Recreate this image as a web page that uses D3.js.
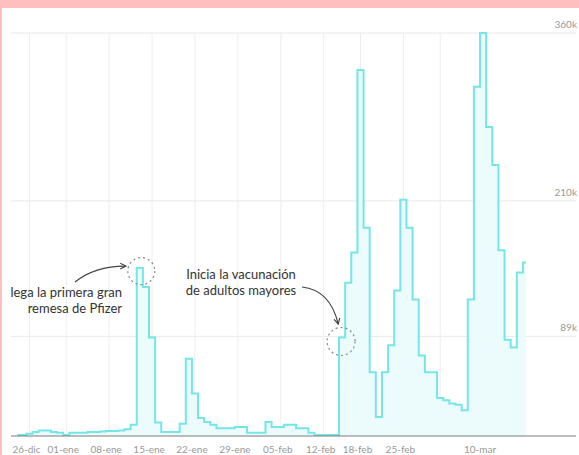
<!DOCTYPE html>
<html>
<head>
<meta charset="utf-8">
<script src="https://cdn.jsdelivr.net/npm/d3@7"></script>
<style>
  html, body { margin: 0; padding: 0; }
  body { width: 579px; height: 455px; background: #ffbfbf; position: relative; overflow: hidden; }
  #panel { position: absolute; left: 2px; top: 8px; width: 577px; height: 447px; background: #fff; }
  svg { position: absolute; left: 0; top: 0; }
  text { font-family: Lato, "Open Sans", sans-serif; }
</style>
</head>
<body>
<div id="panel"></div>
<svg id="chart" width="579" height="455"></svg>
<script>
// ---- data ----
const startDate = "2020-12-24";
const endDate = "2021-03-17";
const values = [
  1000, 1000, 2000, 3500, 5000, 5000, 3500, 3000, 1000, 3000,
  3000, 3000, 3500, 3500, 4000, 4500, 4500, 5000, 6000, 10000,
  150000, 133000, 88000, 12000, 3500, 3500, 3500, 11000, 69000, 38000,
  16000, 12500, 10000, 7000, 7000, 7000, 8000, 8000, 3000, 3000,
  3000, 12500, 8000, 8000, 10000, 10000, 7000, 7000, 3000, 1000,
  1000, 1000, 1000, 88000, 137000, 164000, 327000, 186000, 57000, 17000,
  57000, 81000, 130000, 211000, 186000, 122000, 72000, 57000, 57000, 34000,
  32000, 29000, 28000, 23000, 122000, 312000, 360000, 276000, 242000, 166000,
  86000, 79000, 146000, 155000
];
const yTicks = [89000, 210000, 360000];
const yTickLabels = ["89k", "210k", "360k"];
const xTickDates = ["2020-12-26","2021-01-01","2021-01-08","2021-01-15","2021-01-22","2021-01-29","2021-02-05","2021-02-12","2021-02-18","2021-02-25","2021-03-03","2021-03-10"];
const xTickLabels = ["26-dic","01-ene","08-ene","15-ene","22-ene","29-ene","05-feb","12-feb","18-feb","25-feb","","10-mar"];
const annotations = [
  { date: "2021-01-13", value: 150000, lines: ["Llega la primera gran", "remesa de Pfizer"] },
  { date: "2021-02-15", value: 88000, lines: ["Inicia la vacunación", "de adultos mayores"] }
];

// ---- setup ----
const parse = d3.timeParse("%Y-%m-%d");
const days = d3.timeDay.range(parse(startDate), d3.timeDay.offset(parse(endDate), 1));
const data = days.map((d, i) => ({ date: d, value: values[i] }));

const svg = d3.select("#chart");
const x = d3.scaleTime().domain([parse(startDate), parse(endDate)]).range([17.2, 526]);
const y = d3.scaleLinear().domain([0, 360000]).range([436, 33]);
const plotLeft = 11, plotRight = 576;

const defs = svg.append("defs");
defs.append("clipPath").attr("id", "clipL").append("rect")
  .attr("x", 10.7).attr("y", 0).attr("width", 570).attr("height", 455);
defs.append("marker").attr("id", "arrow").attr("viewBox", "0 0 10 10")
  .attr("refX", 8).attr("refY", 5).attr("markerWidth", 6).attr("markerHeight", 6)
  .attr("orient", "auto-start-reverse")
  .append("path").attr("d", "M1,1 L9,5 L1,9").attr("fill", "none").attr("stroke", "#444").attr("stroke-width", 1.6);

// horizontal gridlines
svg.append("g").selectAll("line").data(yTicks).join("line")
  .attr("x1", plotLeft).attr("x2", plotRight)
  .attr("y1", d => y(d)).attr("y2", d => y(d))
  .attr("stroke", "#e8e8e8").attr("stroke-width", 1);

// vertical gridlines
svg.append("g").selectAll("line").data(xTickDates).join("line")
  .attr("x1", d => x(parse(d))).attr("x2", d => x(parse(d)))
  .attr("y1", y(360000)).attr("y2", y(0))
  .attr("stroke", "#eeeeee").attr("stroke-width", 1);

// area + line
const area = d3.area().curve(d3.curveStep).x(d => x(d.date)).y0(y(0)).y1(d => y(d.value));
const line = d3.line().curve(d3.curveStep).x(d => x(d.date)).y(d => y(d.value));
svg.append("path").datum(data).attr("d", area).attr("fill", "#eafcfc").attr("opacity", 0.9);
svg.append("path").datum(data).attr("d", line).attr("fill", "none")
  .attr("stroke", "#74e6e8").attr("stroke-width", 2).attr("stroke-linejoin", "miter");

// baseline
svg.append("line").attr("x1", plotLeft).attr("x2", plotRight)
  .attr("y1", y(0)).attr("y2", y(0)).attr("stroke", "#7a7a7a").attr("stroke-width", 1);

// y tick labels
svg.append("g").selectAll("text").data(yTicks).join("text")
  .attr("x", 577).attr("y", d => y(d) - 5)
  .attr("text-anchor", "end").attr("font-size", 10).attr("fill", "#999")
  .text((d, i) => yTickLabels[i]);

// x tick labels
svg.append("g").selectAll("text").data(xTickDates).join("text")
  .attr("x", d => x(parse(d)) - 3).attr("y", 453)
  .attr("text-anchor", "middle").attr("font-size", 10).attr("fill", "#999")
  .text((d, i) => xTickLabels[i]);

// annotations
const a1 = annotations[0], a2 = annotations[1];
const c1x = x(parse(a1.date)) + 1.5, c1y = y(a1.value) + 3;
const c2x = x(parse(a2.date)) - 1, c2y = y(a2.value) + 4;
svg.append("circle").attr("cx", c1x).attr("cy", c1y).attr("r", 13.5)
  .attr("fill", "none").attr("stroke", "#888").attr("stroke-width", 1.2).attr("stroke-dasharray", "2,3");
svg.append("circle").attr("cx", c2x).attr("cy", c2y).attr("r", 14)
  .attr("fill", "none").attr("stroke", "#888").attr("stroke-width", 1.2).attr("stroke-dasharray", "2,3");

const g1 = svg.append("g").attr("clip-path", "url(#clipL)");
g1.selectAll("text").data(a1.lines).join("text")
  .attr("x", 122).attr("y", (d, i) => 297 + i * 16)
  .attr("text-anchor", "end").attr("font-size", 13).attr("fill", "#333").text(d => d);
svg.append("path")
  .attr("d", `M75,282 Q95,266 ${c1x - 16},${c1y - 5}`)
  .attr("fill", "none").attr("stroke", "#444").attr("stroke-width", 1.2)
  .attr("marker-end", "url(#arrow)");

svg.append("g").selectAll("text").data(a2.lines).join("text")
  .attr("x", 241).attr("y", (d, i) => 279 + i * 16)
  .attr("text-anchor", "middle").attr("font-size", 13).attr("fill", "#333").text(d => d);
svg.append("path")
  .attr("d", `M302,287 Q330,290 ${c2x - 3},${c2y - 18}`)
  .attr("fill", "none").attr("stroke", "#444").attr("stroke-width", 1.2)
  .attr("marker-end", "url(#arrow)");
</script>
</body>
</html>
